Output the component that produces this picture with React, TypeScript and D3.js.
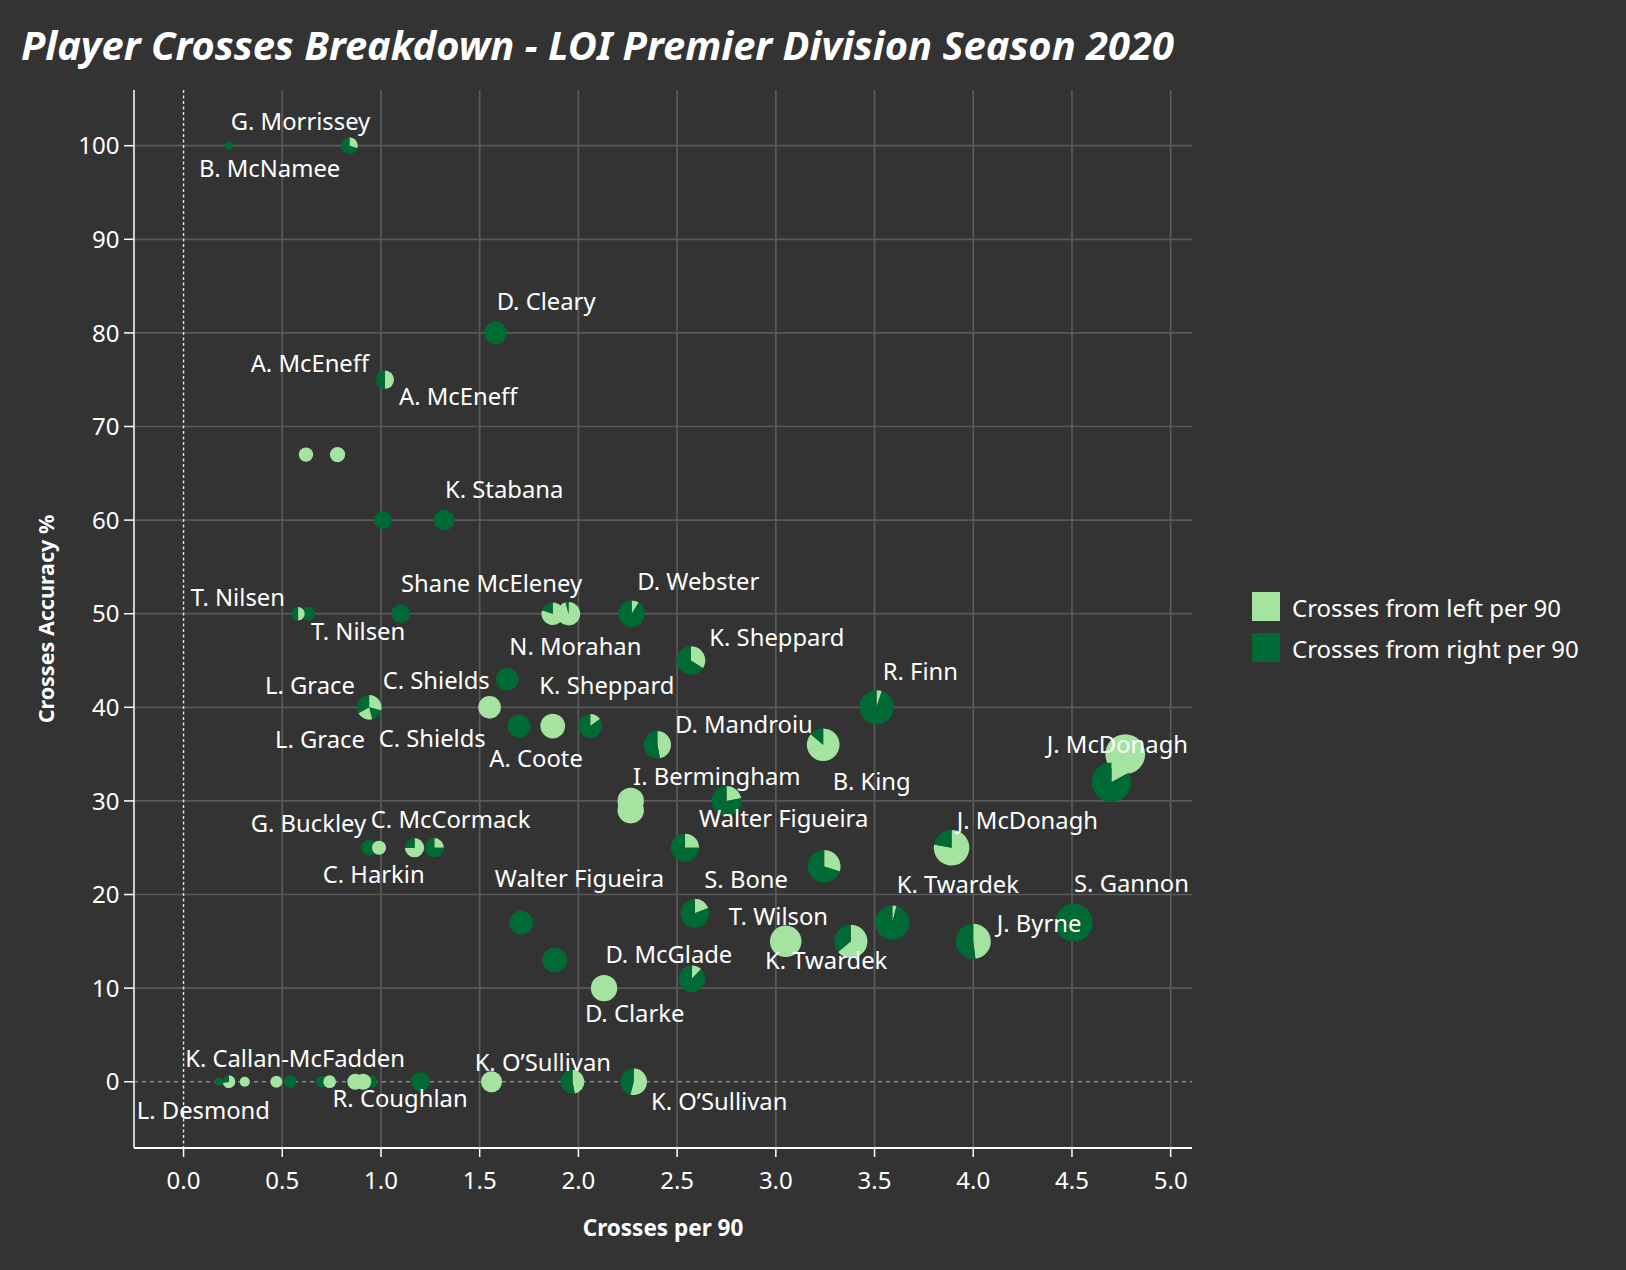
import React, { useEffect } from 'react';
import * as d3 from 'd3';

const W = 1626;
const H = 1270;

// ---------- data ----------
// one entry per drawn pie mark (draw order)
const crossesPer90 = [
  0.23, 0.84, 1.58, 1.02, 0.62, 0.78, 1.01, 1.32, 0.63, 0.58,
  1.10, 1.87, 1.95, 2.27, 2.57, 1.64, 0.94, 1.55, 1.70, 1.87,
  2.06, 2.40, 3.51, 3.24, 4.77, 4.70, 2.265, 2.265, 2.75, 0.94,
  0.99, 1.17, 1.27, 2.54, 3.245, 3.89, 1.71, 1.88, 2.13, 2.59,
  2.575, 3.05, 3.38, 3.59, 4.00, 4.51, 0.18, 0.23, 0.31, 0.47,
  0.54, 0.70, 0.74, 0.95, 0.87, 0.91, 1.20, 1.56, 1.97, 2.28,
];
const crossesAccuracy = [
  100, 100, 80, 75, 67, 67, 60, 60, 50, 50,
  50, 50, 50, 50, 45, 43, 40, 40, 38, 38,
  38, 36, 40, 36, 35, 32, 30, 29, 30, 25,
  25, 25, 25, 25, 23, 25, 17, 13, 10, 18,
  11, 15, 15, 17, 15, 17, 0, 0, 0, 0,
  0, 0, 0, 0, 0, 0, 0, 0, 0, 0,
];
// size measure of each mark (circle area)
const markSize = [
  0.22, 0.85, 1.58, 1.02, 0.64, 0.73, 1.0, 1.31, 0.6, 0.55,
  1.08, 1.55, 1.7, 2.19, 2.53, 1.58, 1.87, 1.58, 1.63, 1.88,
  1.78, 2.3, 3.64, 3.29, 4.9, 4.8, 2.15, 2.15, 2.74, 0.8,
  0.62, 1.15, 1.15, 2.43, 3.3, 3.92, 1.75, 1.92, 2.14, 2.55,
  2.2, 3.08, 3.43, 3.6, 3.8, 4.36, 0.23, 0.5, 0.31, 0.44,
  0.49, 0.42, 0.5, 0.48, 0.79, 0.79, 1.16, 1.36, 1.75, 2.19,
];
// pie slices, alternating [from left, from right, ...] as shares
const pieSlices: number[][] = [
  [0, 1], [0.3, 0.7], [0, 1], [0.5, 0.5], [1, 0], [1, 0], [0, 1], [0, 1], [0, 1], [0.5, 0.5],
  [0, 1], [0.8, 0.2], [0.96, 0.04], [0.09, 0.91], [0.34, 0.66], [0, 1], [0.29, 0.17, 0.21, 0.33], [1, 0], [0, 1], [1, 0],
  [0.15, 0.85], [0.47, 0.53], [0.05, 0.95], [0.86, 0.14], [1, 0], [0.17, 0.83], [1, 0], [1, 0], [0.22, 0.78], [0, 1],
  [1, 0], [0.75, 0.25], [0.25, 0.75], [0.25, 0.75], [0.3, 0.7], [0.78, 0.22], [0, 1], [0, 1], [1, 0], [0.19, 0.81],
  [0.12, 0.88], [1, 0], [0.64, 0.36], [0.04, 0.96], [0.48, 0.52], [0, 1], [0, 1], [0.72, 0.28], [1, 0], [1, 0],
  [0, 1], [0, 1], [1, 0], [0, 1], [1, 0], [1, 0], [0, 1], [1, 0], [0.47, 0.53], [0.54, 0.46],
];

// player labels and the mark they belong to
const labelText = [
  'G. Morrissey', 'B. McNamee', 'D. Cleary', 'A. McEneff', 'A. McEneff', 'K. Stabana',
  'T. Nilsen', 'T. Nilsen', 'Shane McEleney', 'D. Webster', 'N. Morahan', 'K. Sheppard',
  'K. Sheppard', 'L. Grace', 'L. Grace', 'C. Shields', 'C. Shields', 'A. Coote',
  'R. Finn', 'D. Mandroiu', 'B. King', 'J. McDonagh', 'J. McDonagh', 'I. Bermingham',
  'Walter Figueira', 'G. Buckley', 'C. McCormack', 'C. Harkin', 'Walter Figueira', 'S. Bone',
  'K. Twardek', 'S. Gannon', 'T. Wilson', 'J. Byrne', 'D. McGlade', 'K. Twardek',
  'D. Clarke', 'K. Callan-McFadden', 'K. O\u2019Sullivan', 'R. Coughlan', 'K. O\u2019Sullivan', 'L. Desmond',
];
const labelMark = [
  1, 0, 2, 3, 3, 7,
  9, 8, 10, 13, 15, 14,
  20, 16, 16, 17, 17, 18,
  22, 21, 23, 24, 35, 26,
  33, 29, 30, 30, 36, 39,
  43, 45, 41, 44, 40, 42,
  38, 46, 57, 56, 59, 47,
];

const xTickValues = [0, 0.5, 1, 1.5, 2, 2.5, 3, 3.5, 4, 4.5, 5];
const yTickValues = [0, 10, 20, 30, 40, 50, 60, 70, 80, 90, 100];
const legendItems = ['Crosses from left per 90', 'Crosses from right per 90'];

// ---------- layout ----------
// label placement offsets (px) from the mark centre to the text start / baseline
const labelOffset: [number, number][] = [
  [-118.7, -15.7], [-30, 31.3], [1.2, -22.9], [-134.3, -8], [14, 25.3], [0.8, -22.1],
  [-107.4, -8], [3, 26.3], [0.3, -22], [5.6, -23.7], [2, -24.2], [18.4, -14.5],
  [-50.9, -32], [-104.2, -13.3], [-94.2, 41], [-106.9, -18], [-110.9, 40], [-29.9, 40.7],
  [6.2, -27.3], [17.6, -11.4], [9.5, 45.3], [-78.5, -0.8], [5.2, -18.4], [2.4, -15.9],
  [14, -21], [-118.4, -16], [-8.2, -19.4], [-56.3, 35.6], [-26.3, -35.9], [9.4, -24.9],
  [4.4, -29.3], [0.1, -30.9], [-56.9, -16.3], [23.5, -9.6], [-86.5, -15.4], [-85.8, 28],
  [-19.1, 33.6], [-33.9, -15], [-16.9, -11], [-87.9, 25], [17.3, 28.3], [-92.2, 37.6],
];

const BG = '#333333';
const LIGHT = '#a5e3a0';
const DARK = '#006a35';
const GRID = '#595959';
const FONT = "'Noto Sans', 'Open Sans', sans-serif";

const plot = { left: 134, right: 1192, top: 90, bottom: 1148 };

export default function App() {
  useEffect(() => {
    document.body.style.margin = '0';
    document.body.style.background = BG;
  }, []);

  const x = d3.scaleLinear().domain([-0.251, 5.108]).range([plot.left, plot.right]);
  const y = d3.scaleLinear().domain([-7.08, 105.95]).range([plot.bottom, plot.top]);
  const r = d3.scaleSqrt().domain([0, 5]).range([0, 9 * Math.sqrt(5)]);
  const pie = d3.pie<number>().sort(null).value((d) => d);
  const arc = d3.arc<d3.PieArcDatum<number>>().innerRadius(0);

  return (
    <svg
      width={W}
      height={H}
      style={{ position: 'absolute', left: 0, top: 0, display: 'block', background: BG }}
      fontFamily={FONT}
    >
      <rect x={0} y={0} width={W} height={H} fill={BG} />
      <text
        x={21}
        y={60}
        fill="#ffffff"
        fontSize={39}
        fontWeight={700}
        fontStyle="italic"
        textLength={1153}
        lengthAdjust="spacingAndGlyphs"
      >
        Player Crosses Breakdown - LOI Premier Division Season 2020
      </text>

      {/* grid */}
      {yTickValues.filter((v) => v !== 0).map((v) => (
        <line key={'gy' + v} x1={plot.left} x2={plot.right} y1={y(v)} y2={y(v)} stroke={GRID} strokeWidth={1.7} />
      ))}
      {xTickValues.filter((v) => v !== 0).map((v) => (
        <line key={'gx' + v} y1={plot.top} y2={plot.bottom} x1={x(v)} x2={x(v)} stroke={GRID} strokeWidth={1.7} />
      ))}
      {/* zero lines */}
      <line x1={plot.left} x2={plot.right} y1={y(0)} y2={y(0)} stroke="#8a8a8a" strokeWidth={1.4} strokeDasharray="4 4" />
      <line y1={plot.top} y2={plot.bottom} x1={x(0)} x2={x(0)} stroke="#e6e6e6" strokeWidth={1.4} strokeDasharray="3 2.5" />

      {/* axes */}
      <line x1={plot.left} x2={plot.left} y1={plot.top} y2={plot.bottom} stroke="#ffffff" strokeWidth={1.5} />
      <line x1={plot.left} x2={plot.right} y1={plot.bottom} y2={plot.bottom} stroke="#ffffff" strokeWidth={2} />
      {yTickValues.map((v) => (
        <g key={'ty' + v}>
          <line x1={plot.left - 10} x2={plot.left} y1={y(v)} y2={y(v)} stroke="#ffffff" strokeWidth={1.5} />
          <text x={119.5} y={y(v)} dy="0.36em" textAnchor="end" fill="#ffffff" fontSize={24}>
            {d3.format('d')(v)}
          </text>
        </g>
      ))}
      {xTickValues.map((v) => (
        <g key={'tx' + v}>
          <line x1={x(v)} x2={x(v)} y1={plot.bottom} y2={plot.bottom + 9} stroke="#ffffff" strokeWidth={1.5} />
          <text x={x(v)} y={1189} textAnchor="middle" fill="#ffffff" fontSize={24}>
            {d3.format('.1f')(v)}
          </text>
        </g>
      ))}
      <text x={(plot.left + plot.right) / 2} y={1236} textAnchor="middle" fill="#ffffff" fontSize={22.5} fontWeight={700}>
        Crosses per 90
      </text>
      <text
        transform={`translate(54,${(plot.top + plot.bottom) / 2}) rotate(-90)`}
        textAnchor="middle"
        fill="#ffffff"
        fontSize={21.5}
        fontWeight={700}
      >
        Crosses Accuracy %
      </text>

      {/* pies */}
      {crossesPer90.map((cv, i) => {
        const rad = r(markSize[i]);
        const arcs = pie(pieSlices[i]);
        return (
          <g key={'m' + i} transform={`translate(${x(cv)},${y(crossesAccuracy[i])})`}>
            {arcs.map((a, j) =>
              a.value > 0 ? (
                <path key={j} d={arc.outerRadius(rad)(a) || ''} fill={j % 2 === 0 ? LIGHT : DARK} />
              ) : null
            )}
          </g>
        );
      })}

      {/* labels */}
      {labelText.map((t, i) => {
        const m = labelMark[i];
        const [dx, dy] = labelOffset[i];
        return (
          <text
            key={'l' + i}
            x={x(crossesPer90[m]) + dx}
            y={y(crossesAccuracy[m]) + dy}
            fill="#ffffff"
            fontSize={23.8}
          >
            {t}
          </text>
        );
      })}

      {/* legend */}
      {legendItems.map((t, i) => (
        <g key={'lg' + i} transform={`translate(1252,${592 + i * 41})`}>
          <rect width={28} height={29} fill={i === 0 ? LIGHT : DARK} />
          <text x={40} y={25} fill="#ffffff" fontSize={24}>
            {t}
          </text>
        </g>
      ))}
    </svg>
  );
}
